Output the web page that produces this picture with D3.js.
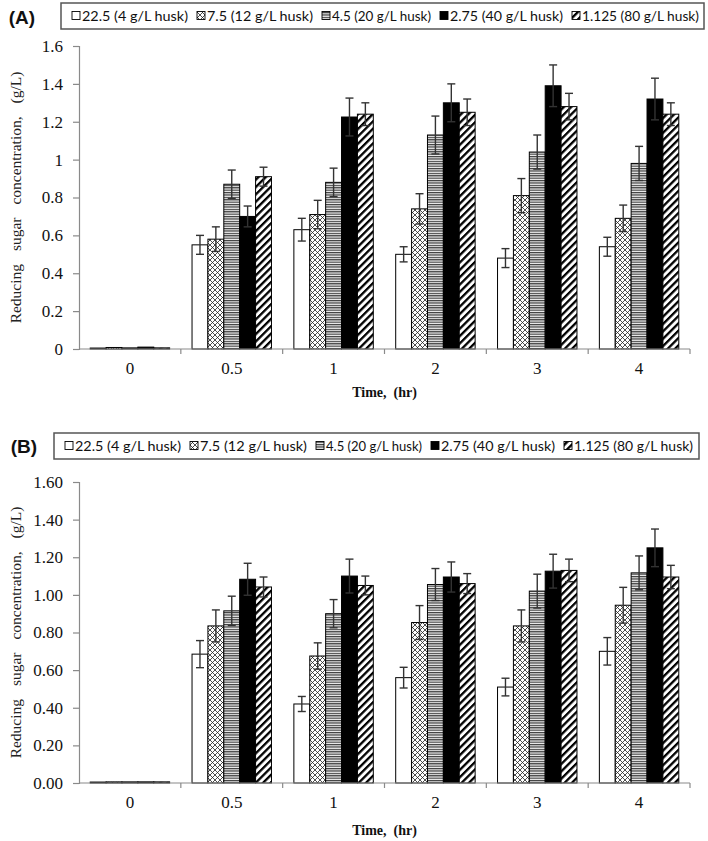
<!DOCTYPE html>
<html>
<head>
<meta charset="utf-8">
<script src="https://cdn.jsdelivr.net/npm/d3@7"></script>
<style>
  html, body { margin: 0; padding: 0; background: #fff; }
  svg { display: block; }
</style>
</head>
<body>
<svg id="chart" width="708" height="841"></svg>
<script>
// ---------------- DATA ----------------
const categories = ["0", "0.5", "1", "2", "3", "4"];
const seriesNames = ["22.5 (4 g/L husk)", "7.5 (12 g/L husk)", "4.5 (20 g/L husk)", "2.75 (40 g/L husk)", "1.125 (80 g/L husk)"];

// Panel A values (per series, across categories)
const valuesA_s1 = [0.005, 0.55, 0.63, 0.50, 0.48, 0.54];
const valuesA_s2 = [0.008, 0.58, 0.71, 0.74, 0.81, 0.69];
const valuesA_s3 = [0.006, 0.87, 0.88, 1.13, 1.04, 0.98];
const valuesA_s4 = [0.010, 0.70, 1.225, 1.30, 1.39, 1.32];
const valuesA_s5 = [0.006, 0.91, 1.24, 1.25, 1.28, 1.24];
const errorsA_s1 = [0.003, 0.05, 0.06, 0.04, 0.05, 0.05];
const errorsA_s2 = [0.003, 0.065, 0.075, 0.08, 0.09, 0.07];
const errorsA_s3 = [0.003, 0.075, 0.075, 0.10, 0.09, 0.09];
const errorsA_s4 = [0.004, 0.055, 0.10, 0.10, 0.11, 0.11];
const errorsA_s5 = [0.003, 0.05, 0.06, 0.07, 0.07, 0.06];

// Panel B values
const valuesB_s1 = [0.005, 0.685, 0.42, 0.56, 0.51, 0.70];
const valuesB_s2 = [0.006, 0.835, 0.675, 0.853, 0.835, 0.945];
const valuesB_s3 = [0.006, 0.915, 0.90, 1.055, 1.02, 1.117];
const valuesB_s4 = [0.006, 1.083, 1.10, 1.095, 1.126, 1.25];
const valuesB_s5 = [0.006, 1.042, 1.05, 1.06, 1.13, 1.095];
const errorsB_s1 = [0.003, 0.072, 0.04, 0.055, 0.047, 0.073];
const errorsB_s2 = [0.003, 0.085, 0.07, 0.09, 0.085, 0.095];
const errorsB_s3 = [0.003, 0.078, 0.075, 0.085, 0.09, 0.09];
const errorsB_s4 = [0.003, 0.085, 0.09, 0.08, 0.09, 0.10];
const errorsB_s5 = [0.003, 0.053, 0.05, 0.053, 0.06, 0.062];

const yTicks = [0, 0.2, 0.4, 0.6, 0.8, 1.0, 1.2, 1.4, 1.6];
const yTickLabelsA = ["0", "0.2", "0.4", "0.6", "0.8", "1", "1.2", "1.4", "1.6"];
const yTickLabelsB = ["0.00", "0.20", "0.40", "0.60", "0.80", "1.00", "1.20", "1.40", "1.60"];
const panelLabels = ["(A)", "(B)"];
const xTitle = "Time,  (hr)";
const yTitle = "Reducing sugar concentration, (g/L)";

// ---------------- DRAWING ----------------
const svg = d3.select("#chart");
const defs = svg.append("defs");

// patterns
const pX = defs.append("pattern").attr("id", "p-xhatch").attr("patternUnits", "userSpaceOnUse")
  .attr("width", 5).attr("height", 5);
pX.append("rect").attr("width", 5).attr("height", 5).attr("fill", "#fff");
pX.append("path").attr("d", "M0,0L5,5M5,0L0,5M-1,4L1,6M4,-1L6,1M-1,1L1,-1M4,6L6,4")
  .attr("stroke", "#222").attr("stroke-width", 0.8).attr("fill", "none");

const pH = defs.append("pattern").attr("id", "p-horiz").attr("patternUnits", "userSpaceOnUse")
  .attr("width", 4).attr("height", 2.4);
pH.append("rect").attr("width", 4).attr("height", 2.4).attr("fill", "#f4f4f4");
pH.append("rect").attr("y", 0).attr("width", 4).attr("height", 1.2).attr("fill", "#3a3a3a");

const pD = defs.append("pattern").attr("id", "p-diag").attr("patternUnits", "userSpaceOnUse")
  .attr("width", 5.2).attr("height", 5.2).attr("patternTransform", "rotate(45)");
pD.append("rect").attr("width", 5.2).attr("height", 5.2).attr("fill", "#fff");
pD.append("rect").attr("width", 2.3).attr("height", 5.2).attr("fill", "#000");

const fills = ["#ffffff", "url(#p-xhatch)", "url(#p-horiz)", "#000000", "url(#p-diag)"];

const panels = [
  {
    values: [valuesA_s1, valuesA_s2, valuesA_s3, valuesA_s4, valuesA_s5],
    errors: [errorsA_s1, errorsA_s2, errorsA_s3, errorsA_s4, errorsA_s5],
    tickLabels: yTickLabelsA,
    top: 46, bottom: 349,
    label: panelLabels[0], labelX: 22, labelY: 24,
    legendBox: [61, 3, 704, 29],
    legendSym: [72, 197, 322, 440, 572], legendEnd: 699,
    xTitleY: 397, yTitleX: 21
  },
  {
    values: [valuesB_s1, valuesB_s2, valuesB_s3, valuesB_s4, valuesB_s5],
    errors: [errorsB_s1, errorsB_s2, errorsB_s3, errorsB_s4, errorsB_s5],
    tickLabels: yTickLabelsB,
    top: 482, bottom: 783,
    label: panelLabels[1], labelX: 24, labelY: 453,
    legendBox: [54, 433, 699, 459],
    legendSym: [65, 190, 316, 431, 564], legendEnd: 693,
    xTitleY: 835, yTitleX: 21
  }
];

const left = 79, right = 690;
const axisColor = "#8a8a8a";

panels.forEach(P => {
  const g = svg.append("g");
  const x0 = d3.scaleBand().domain(categories).range([left, right]).paddingInner(0).paddingOuter(0);
  const bw = x0.bandwidth();
  const groupW = bw * 0.78;
  const x1 = d3.scaleBand().domain(d3.range(5)).range([0, groupW]).padding(0);
  const y = d3.scaleLinear().domain([0, 1.6]).range([P.bottom, P.top]);

  // bars
  P.values.forEach((vals, s) => {
    g.append("g").selectAll("rect").data(vals).join("rect")
      .attr("x", (d, i) => x0(categories[i]) + (bw - groupW) / 2 + x1(s))
      .attr("y", d => y(d))
      .attr("width", x1.bandwidth())
      .attr("height", d => y(0) - y(d))
      .attr("fill", fills[s])
      .attr("stroke", "#000")
      .attr("stroke-width", 1);
  });

  // error bars
  P.values.forEach((vals, s) => {
    const errs = P.errors[s];
    const eg = g.append("g").attr("stroke", "#333").attr("stroke-width", 1.4).attr("fill", "none");
    vals.forEach((d, i) => {
      if (i === 0) return;
      const cx = x0(categories[i]) + (bw - groupW) / 2 + x1(s) + x1.bandwidth() / 2;
      const yt = y(d + errs[i]), yb = y(d - errs[i]);
      eg.append("line").attr("x1", cx).attr("x2", cx).attr("y1", yt).attr("y2", yb);
      eg.append("line").attr("x1", cx - 4).attr("x2", cx + 4).attr("y1", yt).attr("y2", yt);
      eg.append("line").attr("x1", cx - 4).attr("x2", cx + 4).attr("y1", yb).attr("y2", yb);
    });
  });

  // y axis
  const yAxis = d3.axisLeft(y).tickValues(yTicks).tickSize(6).tickPadding(10)
    .tickFormat((d, i) => P.tickLabels[i]);
  const ya = g.append("g").attr("transform", `translate(${left},0)`).call(yAxis);
  ya.select(".domain").attr("stroke", axisColor).attr("stroke-width", 1.2);
  ya.selectAll(".tick line").attr("stroke", axisColor).attr("stroke-width", 1.2);
  ya.selectAll(".tick text").attr("font-family", "Liberation Serif, serif").attr("font-size", 17).attr("fill", "#111");

  // x axis
  const xa = g.append("g").attr("transform", `translate(0,${P.bottom})`);
  xa.append("line").attr("x1", left).attr("x2", right).attr("y1", 0).attr("y2", 0)
    .attr("stroke", axisColor).attr("stroke-width", 1.2);
  const bounds = categories.map(c => x0(c) + bw);
  xa.selectAll("line.tk").data(bounds).join("line").attr("class", "tk")
    .attr("x1", d => d).attr("x2", d => d).attr("y1", 0).attr("y2", 5)
    .attr("stroke", axisColor).attr("stroke-width", 1.2);
  xa.selectAll("text").data(categories).join("text")
    .attr("x", d => x0(d) + bw / 2).attr("y", 25)
    .attr("text-anchor", "middle")
    .attr("font-family", "Liberation Serif, serif").attr("font-size", 17).attr("fill", "#111")
    .text(d => d);

  // axis titles
  g.append("text").attr("x", (left + right) / 2).attr("y", P.xTitleY)
    .attr("text-anchor", "middle").attr("font-family", "Liberation Serif, serif")
    .attr("font-weight", "bold").attr("font-size", 14).attr("fill", "#111")
    .style("white-space", "pre").text(xTitle);
  g.append("text")
    .attr("transform", `translate(${P.yTitleX},${(P.top + P.bottom) / 2}) rotate(-90)`)
    .attr("text-anchor", "middle").attr("font-family", "Liberation Serif, serif")
    .attr("font-size", 15.5).attr("fill", "#222")
    .attr("word-spacing", "9px")
    .text(yTitle);

  // panel label
  g.append("text").attr("x", P.labelX).attr("y", P.labelY).attr("text-anchor", "middle")
    .attr("font-family", "Liberation Sans, Arial, sans-serif").attr("font-weight", "bold")
    .attr("font-size", 19).attr("fill", "#111").text(P.label);

  // legend
  const [bx0, by0, bx1, by1] = P.legendBox;
  g.append("rect").attr("x", bx0).attr("y", by0).attr("width", bx1 - bx0).attr("height", by1 - by0)
    .attr("fill", "#fff").attr("stroke", "#555").attr("stroke-width", 1.5);
  const cy = (by0 + by1) / 2;
  seriesNames.forEach((name, s) => {
    const sx = P.legendSym[s];
    g.append("rect").attr("x", sx).attr("y", cy - 4.5).attr("width", 8).attr("height", 8)
      .attr("fill", fills[s]).attr("stroke", "#000").attr("stroke-width", 0.9);
    const tx = sx + 10;
    const tend = s < 4 ? P.legendSym[s + 1] - 9 : P.legendEnd;
    g.append("text").attr("x", tx).attr("y", cy + 4.5)
      .attr("font-family", "Lato, Open Sans, sans-serif").attr("font-size", 13.5).attr("fill", "#111")
      .attr("textLength", tend - tx).attr("lengthAdjust", "spacingAndGlyphs")
      .text(name);
  });
});
</script>
</body>
</html>
